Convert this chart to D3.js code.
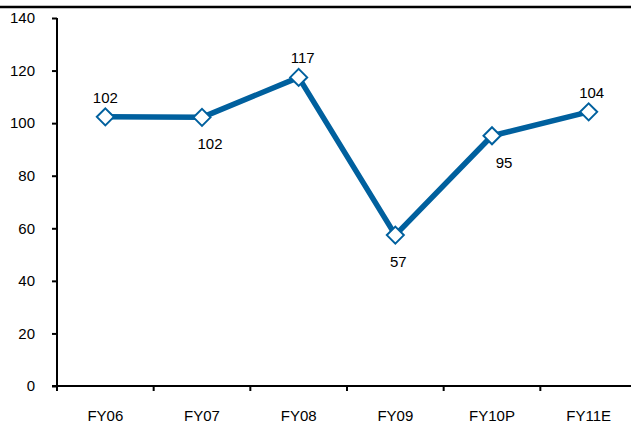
<!DOCTYPE html>
<html>
<head>
<meta charset="utf-8">
<script src="https://cdn.jsdelivr.net/npm/d3@7"></script>
<style>
  body { margin: 0; background: #fff; }
  svg { display: block; font-family: "Liberation Sans", Arial, sans-serif; }
</style>
</head>
<body>
<div id="chart"></div>
<script>
// chart data
var categories = ['FY06', 'FY07', 'FY08', 'FY09', 'FY10P', 'FY11E'];
var values = [102.4, 102.2, 117.4, 57.4, 95.2, 104.3];
var yTicks = [0, 20, 40, 60, 80, 100, 120, 140];

var width = 631, height = 425;
var margin = {top: 18, right: -6, bottom: 39, left: 57};
var innerW = width - margin.left - margin.right;
var innerH = height - margin.top - margin.bottom;
var fontSize = 15;

var svg = d3.select('#chart').append('svg')
    .attr('width', width)
    .attr('height', height);

// frame line across the top
svg.append('line')
    .attr('x1', 0).attr('x2', width)
    .attr('y1', 7).attr('y2', 7)
    .attr('stroke', '#000')
    .attr('stroke-width', 2.5);

var g = svg.append('g')
    .attr('transform', 'translate(' + margin.left + ',' + margin.top + ')');

var x = d3.scaleBand().domain(categories).range([0, innerW]).padding(0);
var y = d3.scaleLinear().domain([0, 140]).range([innerH, 0]);

// y axis
var yAxis = g.append('g')
    .call(d3.axisLeft(y).tickValues(yTicks).tickSize(5).tickPadding(17));
yAxis.select('.domain').remove();
yAxis.selectAll('line').attr('stroke', '#000').attr('stroke-width', 2);
yAxis.selectAll('text').attr('font-size', fontSize).attr('fill', '#000')
    .attr('font-family', '"Liberation Sans", Arial, sans-serif');
g.append('line')
    .attr('x1', 0).attr('x2', 0)
    .attr('y1', y(140)).attr('y2', innerH)
    .attr('stroke', '#000').attr('stroke-width', 2);

// x axis: ticks on band boundaries
var xAxis = g.append('g').attr('transform', 'translate(0,' + innerH + ')');
xAxis.append('line')
    .attr('x1', -5).attr('x2', innerW)
    .attr('y1', 0).attr('y2', 0)
    .attr('stroke', '#000').attr('stroke-width', 2);
xAxis.selectAll('.btick')
    .data(categories)
    .enter().append('line')
    .attr('class', 'btick')
    .attr('x1', function(d) { return x(d); })
    .attr('x2', function(d) { return x(d); })
    .attr('y1', 0).attr('y2', 5)
    .attr('stroke', '#000').attr('stroke-width', 2);
xAxis.selectAll('.xlabel')
    .data(categories)
    .enter().append('text')
    .attr('class', 'xlabel')
    .attr('x', function(d) { return x(d) + x.bandwidth() / 2; })
    .attr('y', 35)
    .attr('text-anchor', 'middle')
    .attr('font-size', fontSize)
    .text(function(d) { return d; });

var points = categories.map(function(c, i) { return {name: c, value: values[i]}; });

var line = d3.line()
    .x(function(d) { return x(d.name) + x.bandwidth() / 2; })
    .y(function(d) { return y(d.value); });

g.append('path')
    .datum(points)
    .attr('d', line)
    .attr('fill', 'none')
    .attr('stroke', '#00609e')
    .attr('stroke-width', 5.5)
    .attr('stroke-linejoin', 'round');

g.selectAll('.marker')
    .data(points)
    .enter().append('path')
    .attr('class', 'marker')
    .attr('transform', function(d) {
        return 'translate(' + (x(d.name) + x.bandwidth() / 2) + ',' + y(d.value) + ')';
    })
    .attr('d', 'M0,-8.5L8.5,0L0,8.5L-8.5,0Z')
    .attr('fill', '#fff')
    .attr('stroke', '#00609e')
    .attr('stroke-width', 2);

// label placement like the source: above or below the point
var labelAbove = [true, false, true, false, false, true];
var labelShift = [0, 8, 4, 3, 12, 3];

g.selectAll('.vlabel')
    .data(points)
    .enter().append('text')
    .attr('class', 'vlabel')
    .attr('x', function(d, i) { return x(d.name) + x.bandwidth() / 2 + labelShift[i]; })
    .attr('y', function(d, i) { return y(d.value) + (labelAbove[i] ? -14 : 32); })
    .attr('text-anchor', 'middle')
    .attr('font-size', fontSize)
    .text(function(d) { return Math.round(d.value); });
</script>
</body>
</html>
